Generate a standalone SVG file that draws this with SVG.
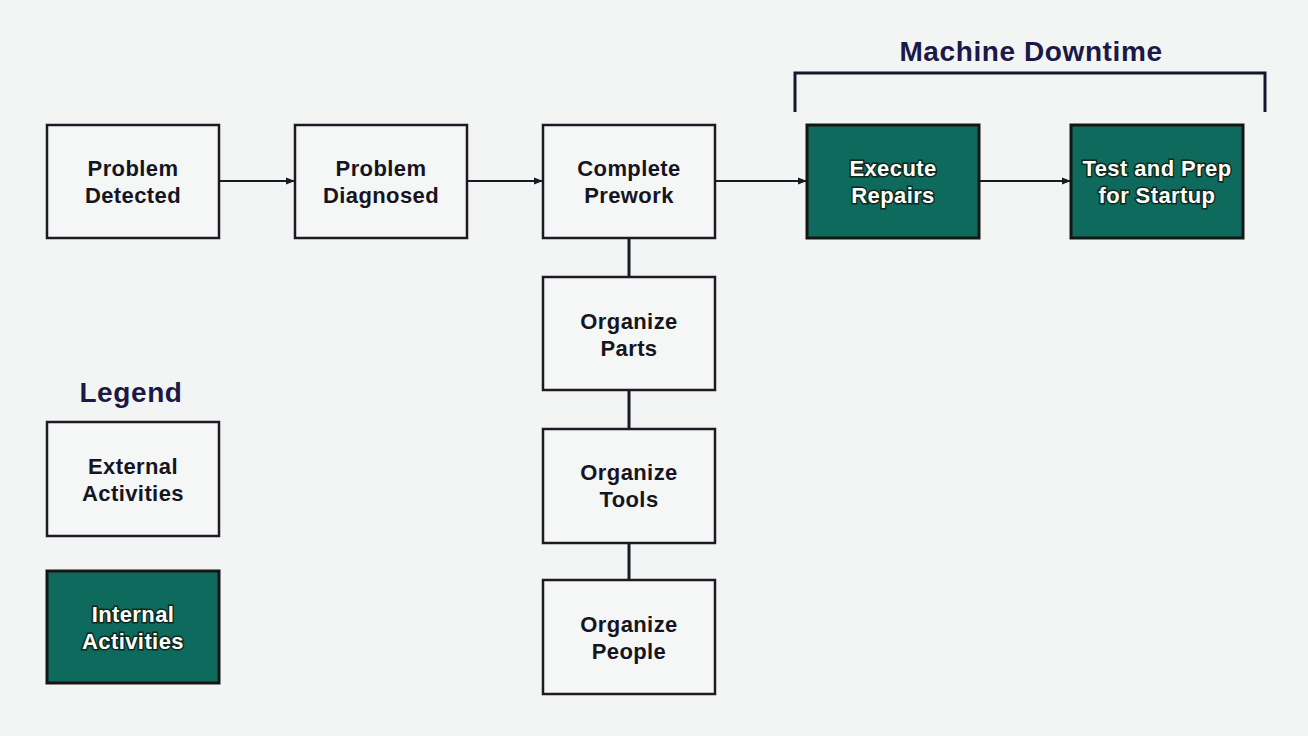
<svg xmlns="http://www.w3.org/2000/svg" width="1308" height="736" viewBox="0 0 1308 736">
<style>
.box{fill:#f5f6f6;stroke:#1c1a22;stroke-width:2.5}
.int{fill:#0f6a5e;stroke:#161712;stroke-width:3}
.t{font-family:"Liberation Sans",Arial,sans-serif;font-weight:bold;font-size:22px;letter-spacing:0.4px;fill:#15151f;text-anchor:middle}
.w{font-family:"Liberation Sans",Arial,sans-serif;font-weight:bold;font-size:22px;letter-spacing:0.4px;fill:#ffffff;text-anchor:middle;stroke:#0a2a20;stroke-width:3;paint-order:stroke}
.h{font-family:"Liberation Sans",Arial,sans-serif;font-weight:bold;font-size:28px;letter-spacing:0.6px;fill:#1c1848;text-anchor:middle}
.c{stroke:#1a1a24;stroke-width:2.2;fill:none}
</style>
<defs>
<marker id="ah" markerWidth="9" markerHeight="9" refX="8" refY="4.5" orient="auto" markerUnits="userSpaceOnUse">
<path d="M0,1 L9,4.5 L0,8 Z" fill="#1a1a24"/>
</marker>
</defs>
<rect width="1308" height="736" fill="#f3f4f4"/>
<g id="connectors">
<line class="c" x1="219" y1="181" x2="294" y2="181" marker-end="url(#ah)"/>
<line class="c" x1="467" y1="181" x2="542" y2="181" marker-end="url(#ah)"/>
<line class="c" x1="715" y1="181" x2="806" y2="181" marker-end="url(#ah)"/>
<line class="c" x1="979" y1="181" x2="1070" y2="181" marker-end="url(#ah)"/>
<line class="c" x1="629" y1="238" x2="629" y2="277" style="stroke-width:3"/>
<line class="c" x1="629" y1="390" x2="629" y2="429" style="stroke-width:3"/>
<line class="c" x1="629" y1="543" x2="629" y2="580" style="stroke-width:3"/>
</g>
<g id="downtime">
<path d="M795,112 V73 H1265 V112" fill="none" stroke="#14182a" stroke-width="3"/>
<text class="h" x="1031" y="61">Machine Downtime</text>
</g>
<g id="n1"><rect class="box" x="47" y="125" width="172" height="113"/><text class="t" x="133" y="176">Problem</text><text class="t" x="133" y="203">Detected</text></g>
<g id="n2"><rect class="box" x="295" y="125" width="172" height="113"/><text class="t" x="381" y="176">Problem</text><text class="t" x="381" y="203">Diagnosed</text></g>
<g id="n3"><rect class="box" x="543" y="125" width="172" height="113"/><text class="t" x="629" y="176">Complete</text><text class="t" x="629" y="203">Prework</text></g>
<g id="n4"><rect class="int" x="807" y="125" width="172" height="113"/><text class="w" x="893" y="176">Execute</text><text class="w" x="893" y="203">Repairs</text></g>
<g id="n5"><rect class="int" x="1071" y="125" width="172" height="113"/><text class="w" x="1157" y="176">Test and Prep</text><text class="w" x="1157" y="203">for Startup</text></g>
<g id="n6"><rect class="box" x="543" y="277" width="172" height="113"/><text class="t" x="629" y="329">Organize</text><text class="t" x="629" y="356">Parts</text></g>
<g id="n7"><rect class="box" x="543" y="429" width="172" height="114"/><text class="t" x="629" y="480">Organize</text><text class="t" x="629" y="507">Tools</text></g>
<g id="n8"><rect class="box" x="543" y="580" width="172" height="114"/><text class="t" x="629" y="632">Organize</text><text class="t" x="629" y="659">People</text></g>
<g id="legend">
<text class="h" x="131" y="402">Legend</text>
<g id="leg-ext"><rect class="box" x="47" y="422" width="172" height="114"/><text class="t" x="133" y="474">External</text><text class="t" x="133" y="501">Activities</text></g>
<g id="leg-int"><rect class="int" x="47" y="571" width="172" height="112"/><text class="w" x="133" y="622">Internal</text><text class="w" x="133" y="649">Activities</text></g>
</g>
</svg>
